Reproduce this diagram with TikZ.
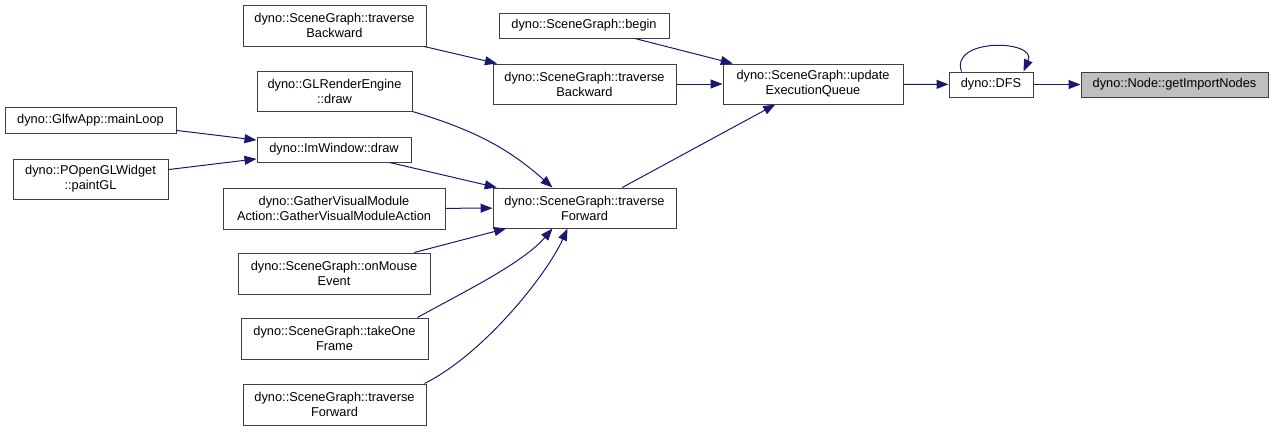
\documentclass[tikz,border=0pt]{standalone}
\usepackage{fontspec}
\setmainfont{Liberation Sans}
\usetikzlibrary{arrows.meta,positioning}
\definecolor{EdgeBlue}{HTML}{191970}
\definecolor{BoxRule}{HTML}{404040}
\definecolor{FocusBg}{HTML}{BFBFBF}

\begin{document}
\begin{tikzpicture}[x=1pt, y=-1pt,
  fn/.style={draw=BoxRule, line width=1pt, fill=white, align=center,
             inner sep=0pt, font=\fontsize{12.8}{15}\selectfont},
  call/.style={EdgeBlue, line width=1pt, -{Triangle[length=12pt,width=9pt]}}]
  \useasboundingbox (0,0) rectangle (1273,431);
  % callers, left column
  \node[fn, minimum width=171pt, minimum height=26pt] (mainloop) at (90.5,120) {dyno::GlfwApp::mainLoop};
  \node[fn, minimum width=155pt, minimum height=40pt] (popengl) at (90.5,179) {dyno::POpenGLWidget\\ ::paintGL};
  % second column
  \node[fn, minimum width=183pt, minimum height=41pt] (tbwdL) at (334.5,25.5) {dyno::SceneGraph::traverse\\ Backward};
  \node[fn, minimum width=155pt, minimum height=40pt] (glre) at (334.5,91) {dyno::GLRenderEngine\\ ::draw};
  \node[fn, minimum width=154pt, minimum height=25pt] (imwin) at (334,149.5) {dyno::ImWindow::draw};
  \node[fn, minimum width=222pt, minimum height=41pt] (gather) at (334,208.5) {dyno::GatherVisualModule\\ Action::GatherVisualModuleAction};
  \node[fn, minimum width=192pt, minimum height=41pt] (onmouse) at (334,273.5) {dyno::SceneGraph::onMouse\\ Event};
  \node[fn, minimum width=187pt, minimum height=41pt] (takeone) at (334.5,338.5) {dyno::SceneGraph::takeOne\\ Frame};
  \node[fn, minimum width=183pt, minimum height=41pt] (tfwdL) at (334.5,404.5) {dyno::SceneGraph::traverse\\ Forward};
  % third column
  \node[fn, minimum width=170pt, minimum height=25pt] (begin) at (584,25.5) {dyno::SceneGraph::begin};
  \node[fn, minimum width=183pt, minimum height=40pt] (tbwd) at (584.5,84) {dyno::SceneGraph::traverse\\ Backward};
  \node[fn, minimum width=183pt, minimum height=40pt] (tfwd) at (584.5,208) {dyno::SceneGraph::traverse\\ Forward};
  % right part
  \node[fn, minimum width=180pt, minimum height=40pt] (update) at (813,84) {dyno::SceneGraph::update\\ ExecutionQueue};
  \node[fn, minimum width=84pt, minimum height=25pt] (dfs) at (991,84.5) {dyno::DFS};
  \node[fn, fill=FocusBg, minimum width=187pt, minimum height=25pt] (getimport) at (1174.5,84.5) {dyno::Node::getImportNodes};

  \draw[call] (tbwdL) -- (tbwd);
  \draw[call] (begin) -- (update);
  \draw[call] (tbwd) -- (update);
  \draw[call] (tfwd) -- (update);
  \draw[call] (update) -- (dfs);
  \draw[call] ([xshift=13pt]dfs.north west) .. controls +(-12,-34) and +(14,-32) .. ([xshift=-10pt]dfs.north east);
  \draw[call] (dfs) -- (getimport);
  \draw[call] (mainloop) -- (imwin);
  \draw[call] (popengl) -- (imwin);
  \draw[call] (glre.south east) .. controls +(60,18) and +(-45,-40) .. ([xshift=-32pt]tfwd.north);
  \draw[call] (imwin) -- (tfwd);
  \draw[call] (gather) -- (tfwd);
  \draw[call] (onmouse) -- (tfwd);
  \draw[call] ([xshift=-11pt]takeone.north east) .. controls +(45,-25) and +(-30,35) .. ([xshift=-32pt]tfwd.south);
  \draw[call] ([xshift=-2pt]tfwdL.north east) .. controls +(60,-30) and +(-20,45) .. ([xshift=-17pt]tfwd.south);
\end{tikzpicture}
\end{document}
